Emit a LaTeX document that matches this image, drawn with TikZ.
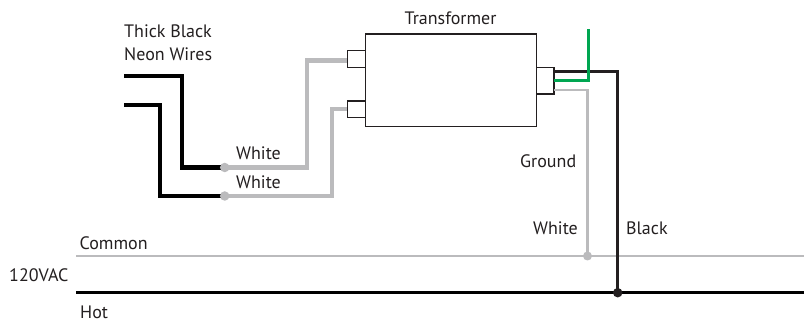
\documentclass[tikz,border=0pt]{standalone}
\usepackage{fontspec}
\setmainfont{PT Sans}
\definecolor{wiregray}{HTML}{BBBBBD}
\definecolor{wiregreen}{HTML}{00A651}
\definecolor{inkt}{HTML}{231F20}
\tikzset{
  lbl/.style={anchor=base west,inner sep=0pt,font=\fontsize{18}{20}\selectfont,text=inkt},
  boxed/.style={draw=inkt,line width=1.1pt,fill=white,inner sep=0pt,minimum width=#1},
  dot/.style={circle,inner sep=0pt,minimum size=#1},
  thick black/.style={draw=black,line width=4.6pt,miter limit=10},
  thick gray/.style={draw=wiregray,line width=4.4pt},
  thin wire/.style={line width=#1},
}
\begin{document}
\begin{tikzpicture}[x=1pt,y=-1pt]
\useasboundingbox (0,0) rectangle (804,320);
% mains
\coordinate (cl) at (76,256);
\coordinate (cr) at (804,256);
\coordinate (hl) at (76,292.7);
\coordinate (hr) at (804,292.7);
\draw[wiregray,thin wire=2.6pt] (cl) -- (cr);
\draw[black,thin wire=2.6pt] (hl) -- (hr);
% junction positions
\coordinate (p1) at (224.7,167.5);
\coordinate (p2) at (224.7,196);
\coordinate (p3) at (587.5,256);
\coordinate (p4) at (617.7,292.7);
% transformer and terminals
\node[boxed=171pt,minimum height=92.7pt] (tr) at (451,80.35) {};
\node[boxed=18pt,minimum height=16.5pt] (t1) at (356.5,59) {};
\node[boxed=18pt,minimum height=16.5pt] (t2) at (356.5,109.3) {};
\node[boxed=17.5pt,minimum height=26.5pt] (t3) at (545.2,80.8) {};
% neon wires
\coordinate (n1) at (124,76);
\coordinate (n2) at (124,104.7);
\coordinate (b1) at (182,167.5);
\coordinate (b2) at (159.7,196);
\draw[thick black] (n1) -| (b1) -- (p1);
\draw[thick black,line width=4.2pt] (n2) -| (b2) -- (p2);
% white wires
\coordinate (g1) at (306.7,60.6);
\coordinate (g2) at (332,109);
\draw[thick gray] (p1) -| (g1) -- (g1 -| t1.west);
\draw[thick gray] (p2) -| (g2) -- (g2 -| t2.west);
% right wires
\coordinate (bk) at (554,71.7);
\coordinate (gn) at (554,80.7);
\coordinate (gy) at (554,90);
\coordinate (gtop) at (588.3,29);
\draw[inkt,thin wire=2.8pt] (bk) -| (p4);
\draw[wiregreen,thin wire=2.4pt] (gn) -| (gtop);
\draw[wiregray,thin wire=2.4pt] (gy) -| (p3);
% dots
\node[dot=9.5pt,fill=wiregray] (d1) at (p1) {};
\node[dot=9.5pt,fill=wiregray] (d2) at (p2) {};
\node[dot=9pt,fill=wiregray] (d3) at (p3) {};
\node[dot=9.5pt,fill=inkt] (d4) at (p4) {};
% labels
\node[lbl] (l1) at (124,37.5) {Thick Black};
\node[lbl] (l2) at (124,60.5) {Neon Wires};
\node[lbl] (l3) at (404.5,25) {Transformer};
\node[lbl] (l4) at (236,160) {White};
\node[lbl] (l5) at (236,189) {White};
\node[lbl] (l6) at (520,168) {Ground};
\node[lbl] (l7) at (533,234.5) {White};
\node[lbl] (l8) at (626,234.5) {Black};
\node[lbl] (l9) at (79.5,249.5) {Common};
\node[lbl] (l10) at (9,282) {120VAC};
\node[lbl] (l11) at (80,319) {Hot};
\end{tikzpicture}
\end{document}
